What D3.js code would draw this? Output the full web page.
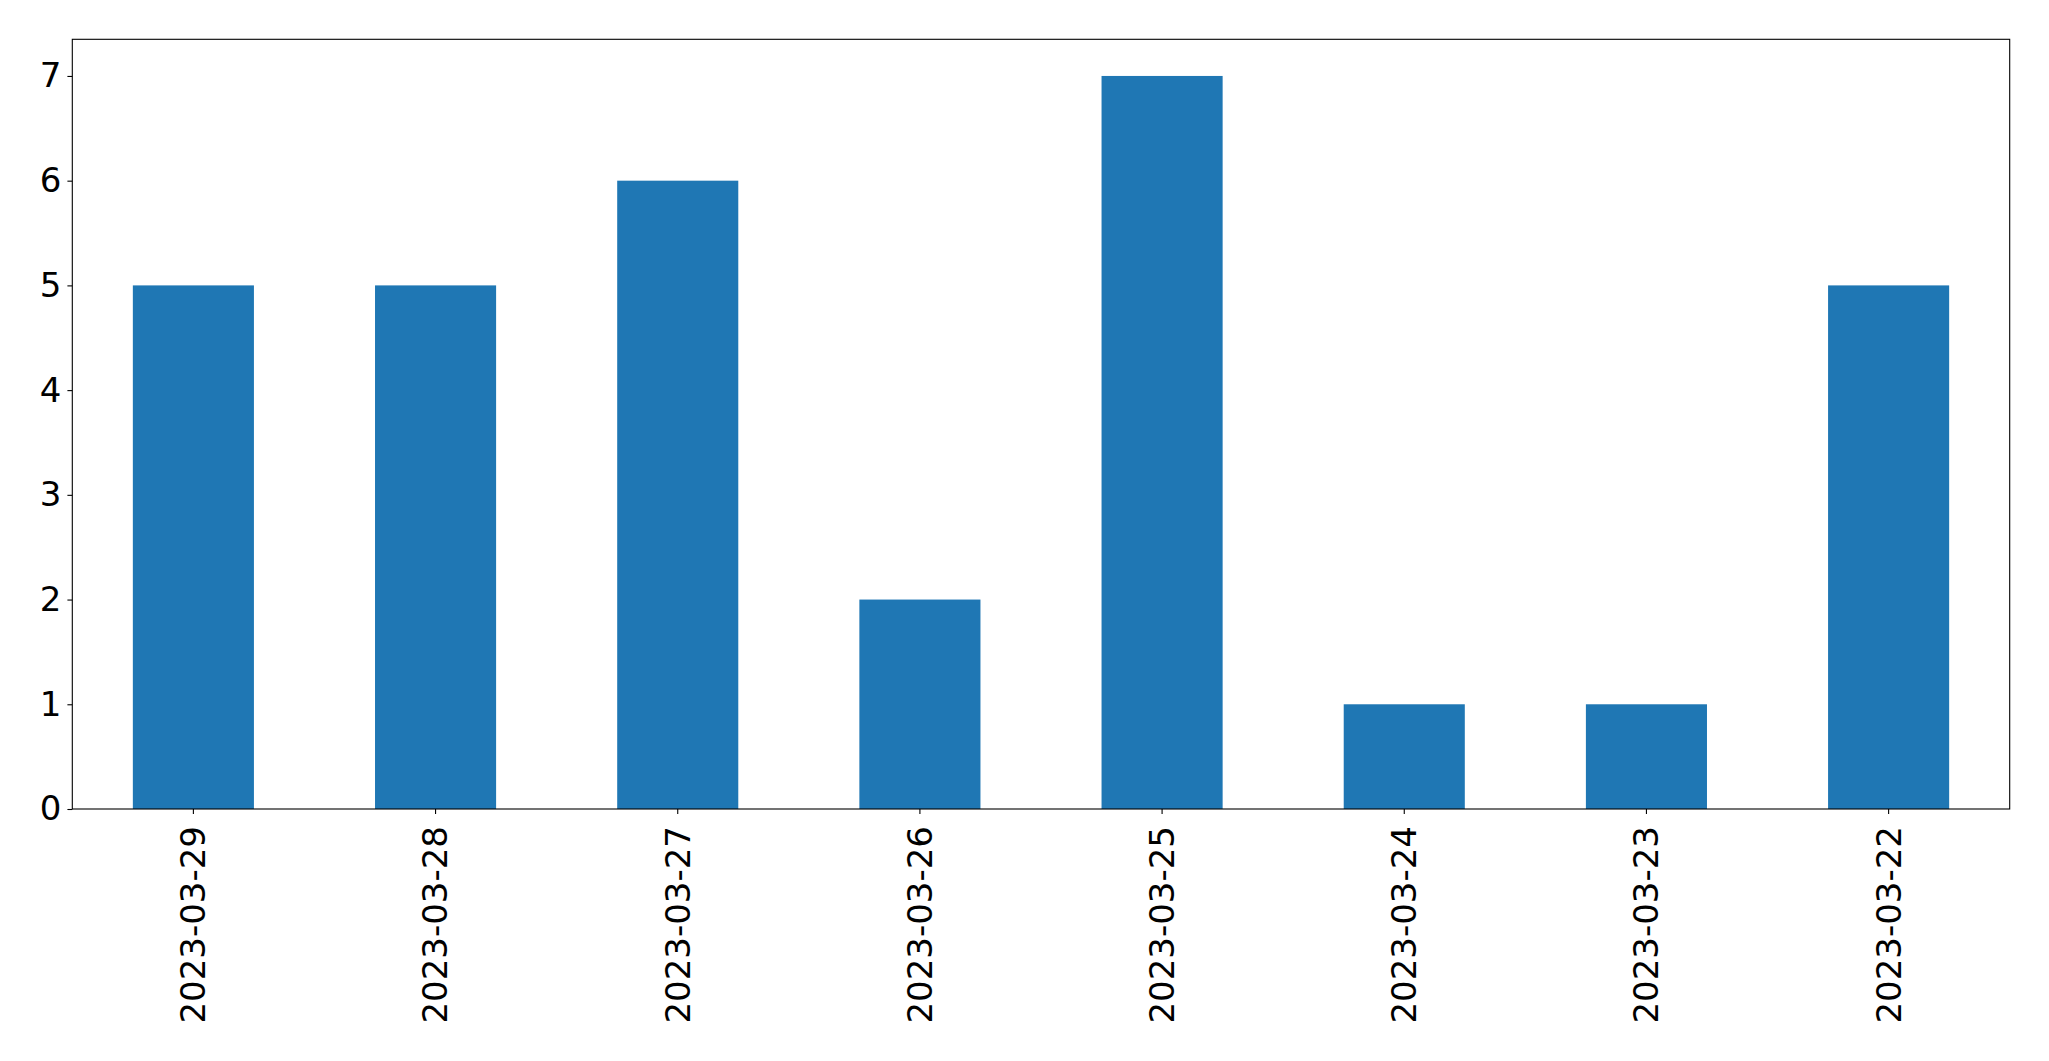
<!DOCTYPE html>
<html><head><meta charset="utf-8">
<script src="https://cdn.jsdelivr.net/npm/d3@7"></script>
<style>body{margin:0;background:#fff}svg{display:block}text{font-family:"DejaVu Sans",sans-serif}</style>
</head><body><svg id="c" width="2049" height="1061"></svg>
<script>
const categories = ["2023-03-29","2023-03-28","2023-03-27","2023-03-26","2023-03-25","2023-03-24","2023-03-23","2023-03-22"];
const values = [5,5,6,2,7,1,1,5];
const yTicks = [0,1,2,3,4,5,6,7];

const svg = d3.select("#c");
const L = 72.3, R = 2009.7, T = 39.3, B = 809;
const x = d3.scaleBand().domain(categories).range([L, R]).paddingInner(0.5).paddingOuter(0.25);
const y = d3.scaleLinear().domain([0, 7.35]).range([B, T]);

svg.selectAll("rect.bar").data(values).enter().append("rect")
  .attr("class","bar")
  .attr("x",(d,i)=>x(categories[i]))
  .attr("width",x.bandwidth())
  .attr("y",d=>y(d))
  .attr("height",d=>B-y(d))
  .attr("fill","#1f77b4");

const fs = 34;
const ya = svg.append("g").attr("transform",`translate(${L},0)`)
  .call(d3.axisLeft(y).tickValues(yTicks).tickSize(4.9).tickPadding(6).tickFormat(d3.format("d")));
ya.select(".domain").remove();
ya.selectAll("text").attr("font-size",fs).attr("font-family","DejaVu Sans").attr("fill","#000");
ya.selectAll("line").attr("stroke","#000").attr("stroke-width",1.1);

const xa = svg.append("g").attr("transform",`translate(0,${B})`)
  .call(d3.axisBottom(x).tickSize(4.9).tickPadding(0));
xa.select(".domain").remove();
xa.selectAll("line").attr("stroke","#000").attr("stroke-width",1.1);
xa.selectAll("text").attr("font-size",fs).attr("font-family","DejaVu Sans").attr("fill","#000")
  .attr("transform","translate(0,17) rotate(-90)")
  .attr("text-anchor","end").attr("dy","0.35em").attr("y",0).attr("x",0);

svg.append("rect").attr("x",L).attr("y",T).attr("width",R-L).attr("height",B-T)
  .attr("fill","none").attr("stroke","#000").attr("stroke-width",1.1);
</script></body></html>
